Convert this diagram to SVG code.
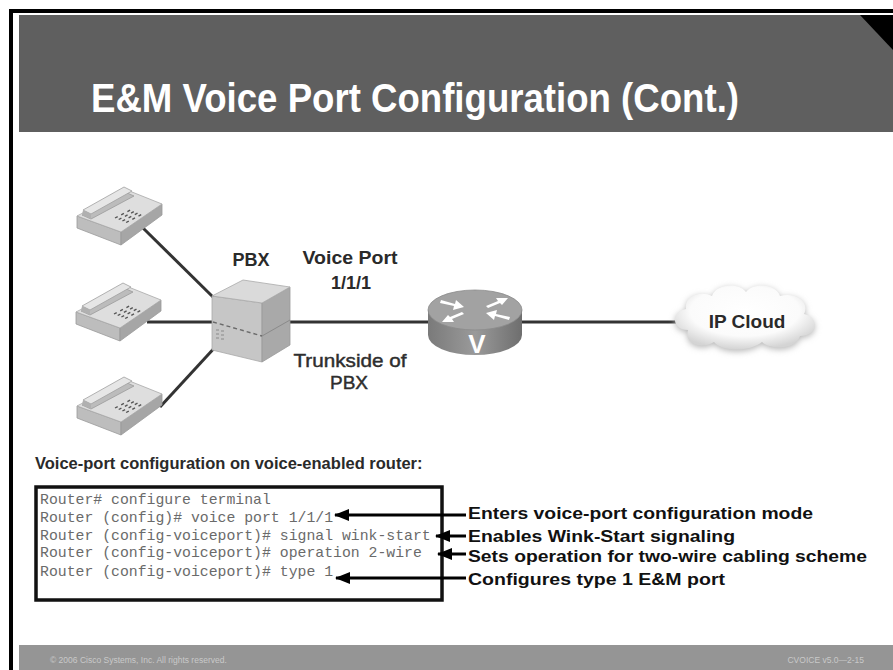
<svg xmlns="http://www.w3.org/2000/svg" width="893" height="670" viewBox="0 0 893 670">
  <style>
    .title { font-family: "Liberation Sans", Arial, sans-serif; font-weight: bold; fill: #ffffff; }
    .lbl { font-family: "Liberation Sans", Arial, sans-serif; font-weight: bold; fill: #2a2a2a; }
    .lblr { font-family: "Liberation Sans", Arial, sans-serif; fill: #2e2e2e; stroke: #2e2e2e; stroke-width: 0.45; }
    .note { font-family: "Liberation Sans", Arial, sans-serif; font-weight: bold; fill: #111111; font-size: 17px; }
    .cli { font-family: "Liberation Mono", "Courier New", monospace; font-size: 14.8px; fill: #6a6a6a; }
    .foot { font-family: "Liberation Sans", Arial, sans-serif; font-size: 8.5px; fill: #c9c9c9; }
    .wire { stroke: #333333; stroke-width: 3; fill: none; }
    .ptr { stroke: #000000; stroke-width: 3; fill: none; marker-end: url(#head); }
  </style>
  <defs>
    <marker id="head" markerUnits="userSpaceOnUse" markerWidth="15" markerHeight="12" refX="14" refY="6" orient="auto">
      <path d="M0,0 L15,6 L0,12 Z" fill="#000000"/>
    </marker>
    <radialGradient id="cloudFill" cx="50%" cy="40%" r="60%">
      <stop offset="0" stop-color="#ffffff"/>
      <stop offset="0.65" stop-color="#fbfbfb"/>
      <stop offset="1" stop-color="#d4d4d4"/>
    </radialGradient>
    <filter id="soft" x="-20%" y="-20%" width="140%" height="140%">
      <feGaussianBlur stdDeviation="3"/>
    </filter>
    <linearGradient id="routerBody" x1="0" y1="0" x2="1" y2="0">
      <stop offset="0" stop-color="#7a7a7a"/>
      <stop offset="0.5" stop-color="#9a9a9a"/>
      <stop offset="1" stop-color="#6e6e6e"/>
    </linearGradient>
    <!-- desk telephone icon, local box about 86 x 62 -->
    <g id="phone">
      <path d="M0,30 L44,46 L44,59 L0,42 Z" fill="#bdbdbd" stroke="#9a9a9a" stroke-width="0.8"/>
      <path d="M44,46 L85,18 L85,29 L44,59 Z" fill="#a6a6a6" stroke="#9a9a9a" stroke-width="0.8"/>
      <path d="M0,30 L50,4 L85,18 L44,46 Z" fill="#dedede" stroke="#a8a8a8" stroke-width="0.8"/>
      <path d="M5,29 L48,6 L57,10 L14,33 Z" fill="#bcbcbc" stroke="#9a9a9a" stroke-width="0.8"/>
      <path d="M6,24 L47,1 L55,5 L14,28 Z" fill="#e6e6e6" stroke="#a0a0a0" stroke-width="0.8"/>
      <path d="M6,24 L14,28 L14,33 L5,29 Z" fill="#b0b0b0"/>
      <path d="M38,32 l2.7,-1.4 M44.2,28.8 l2.7,-1.4 M50.4,25.6 l2.7,-1.4
               M41.7,33.5 l2.7,-1.4 M47.9,30.3 l2.7,-1.4 M54.1,27.1 l2.7,-1.4
               M45.4,35 l2.7,-1.4 M51.6,31.8 l2.7,-1.4 M57.8,28.6 l2.7,-1.4
               M49.1,36.5 l2.7,-1.4 M55.3,33.3 l2.7,-1.4 M61.5,30.1 l2.7,-1.4"
            stroke="#555555" stroke-width="1.4" fill="none"/>
    </g>
  </defs>

  <!-- page frame and title band -->
  <rect x="0" y="0" width="893" height="670" fill="#ffffff"/>
  <rect x="9" y="9" width="884" height="4" fill="#000000"/>
  <rect x="9" y="9" width="4" height="661" fill="#000000"/>
  <rect x="19" y="15" width="874" height="117" fill="#5f5f5f"/>
  <path d="M860,15 L893,15 L893,50 Z" fill="#000000"/>
  <text class="title" x="91" y="112" font-size="40" textLength="648" lengthAdjust="spacingAndGlyphs">E&amp;M Voice Port Configuration (Cont.)</text>

  <!-- footer band -->
  <rect x="19" y="645" width="874" height="25" fill="#959595"/>
  <text class="foot" x="50" y="663">© 2006 Cisco Systems, Inc. All rights reserved.</text>
  <text class="foot" x="864" y="663" text-anchor="end">CVOICE v5.0—2-15</text>

  <!-- links -->
  <g id="connectors">
    <line class="wire" x1="143" y1="228" x2="214" y2="298"/>
    <line class="wire" x1="147" y1="322" x2="213" y2="322"/>
    <line class="wire" x1="160" y1="407" x2="218" y2="344"/>
    <line class="wire" x1="289" y1="322" x2="430" y2="322"/>
    <line class="wire" x1="520" y1="322" x2="680" y2="322"/>
  </g>

  <g id="phone-1"><use href="#phone" x="77" y="186"/></g>
  <g id="phone-2"><use href="#phone" x="76" y="282"/></g>
  <g id="phone-3"><use href="#phone" x="77" y="376"/></g>

  <g id="pbx">
    <path d="M212,296 L262,303 L262,362 L212,350 Z" fill="#c6c6c6" stroke="#a8a8a8" stroke-width="0.8"/>
    <path d="M262,303 L290,287 L290,345 L262,362 Z" fill="#a9a9a9" stroke="#999999" stroke-width="0.8"/>
    <path d="M212,296 L243,280 L290,287 L262,303 Z" fill="#dadada" stroke="#aaaaaa" stroke-width="0.8"/>
    <path d="M213,322 L262,336" stroke="#6a6a6a" stroke-width="1.4" stroke-dasharray="4,3"/>
    <path d="M262,336 L290,320" stroke="#8a8a8a" stroke-width="1"/>
    <path d="M216,330 l3,0 M221,331 l3,0 M216,334 l3,0 M221,335 l3,0 M216,338 l3,0 M221,339 l3,0" stroke="#8a8a8a" stroke-width="1.2"/>
    <text class="lbl" x="251" y="266" font-size="18" text-anchor="middle">PBX</text>
  </g>

  <g id="port-labels">
    <text class="lbl" x="350" y="264" font-size="18" text-anchor="middle" textLength="95" lengthAdjust="spacingAndGlyphs">Voice Port</text>
    <text class="lbl" x="351" y="289" font-size="18" text-anchor="middle">1/1/1</text>
    <text class="lblr" x="350" y="367" font-size="19" text-anchor="middle" textLength="113" lengthAdjust="spacingAndGlyphs">Trunkside of</text>
    <text class="lblr" x="349" y="389" font-size="19" text-anchor="middle">PBX</text>
  </g>

  <g id="router">
    <path d="M428,310 L428,335 A47,20 0 0 0 522,335 L522,310 Z" fill="url(#routerBody)"/>
    <ellipse cx="475" cy="310" rx="47" ry="20" fill="#a2a2a2" stroke="#8a8a8a" stroke-width="0.8"/>
    <!-- arrows on the lid -->
    <g fill="#ffffff">
      <path d="M441,300 L455,304 L456,300 L464,307 L453,310 L454,306 L440,303 Z"/>
      <path d="M509,320 L495,316 L494,320 L486,313 L497,310 L496,314 L510,317 Z"/>
      <path d="M486,306 L498,301 L496,298 L508,298 L502,305 L500,303 L488,308 Z"/>
      <path d="M464,314 L452,319 L454,322 L442,322 L448,315 L450,317 L462,312 Z"/>
    </g>
    <text x="477" y="353" font-family="Liberation Sans, Arial, sans-serif" font-weight="bold" font-size="26" fill="#ffffff" text-anchor="middle">V</text>
  </g>

  <g id="ip-cloud">
    <path d="M688,332 C672,332 670,314 686,311 C684,298 700,292 712,298 C716,286 738,284 746,294 C754,284 776,286 780,298 C796,294 810,304 804,316 C820,320 818,338 800,338 C796,352 770,352 762,344 C750,354 722,354 714,344 C702,352 684,346 688,332 Z" fill="#b8b8b8" filter="url(#soft)"/>
    <path d="M688,330 C672,330 670,312 686,309 C684,296 700,290 712,296 C716,284 738,282 746,292 C754,282 776,284 780,296 C796,292 810,302 804,314 C820,318 818,336 800,336 C796,350 770,350 762,342 C750,352 722,352 714,342 C702,350 684,344 688,330 Z" fill="url(#cloudFill)"/>
    <text class="lbl" x="747" y="328" font-size="19" text-anchor="middle" fill="#111111">IP Cloud</text>
  </g>

  <!-- configuration listing -->
  <g id="config">
    <text class="lbl" x="35" y="469" font-size="16.5" fill="#111111">Voice-port configuration on voice-enabled router:</text>
    <rect x="36" y="487" width="406" height="113" fill="#ffffff" stroke="#111111" stroke-width="3.5"/>
    <text class="cli" x="40" y="504">Router# configure terminal</text>
    <text class="cli" x="40" y="522" fill="#555555">Router (config)# voice port 1/1/1</text>
    <text class="cli" x="40" y="540" fill="#222222">Router (config-voiceport)# signal wink-start</text>
    <text class="cli" x="40" y="557" fill="#9a9a9a">Router (config-voiceport)# operation 2-wire</text>
    <text class="cli" x="40" y="576">Router (config-voiceport)# type 1</text>
  </g>

  <g id="annotations">
    <line class="ptr" x1="466" y1="515" x2="335" y2="515"/>
    <line class="ptr" x1="466" y1="536" x2="436" y2="536"/>
    <line class="ptr" x1="466" y1="554" x2="438" y2="554"/>
    <line class="ptr" x1="466" y1="578" x2="336" y2="578"/>
    <text class="note" x="468" y="519" textLength="345" lengthAdjust="spacingAndGlyphs">Enters voice-port configuration mode</text>
    <text class="note" x="468" y="542" textLength="267" lengthAdjust="spacingAndGlyphs">Enables Wink-Start signaling</text>
    <text class="note" x="468" y="562" textLength="399" lengthAdjust="spacingAndGlyphs">Sets operation for two-wire cabling scheme</text>
    <text class="note" x="468" y="585" textLength="257" lengthAdjust="spacingAndGlyphs">Configures type 1 E&amp;M port</text>
  </g>
</svg>
